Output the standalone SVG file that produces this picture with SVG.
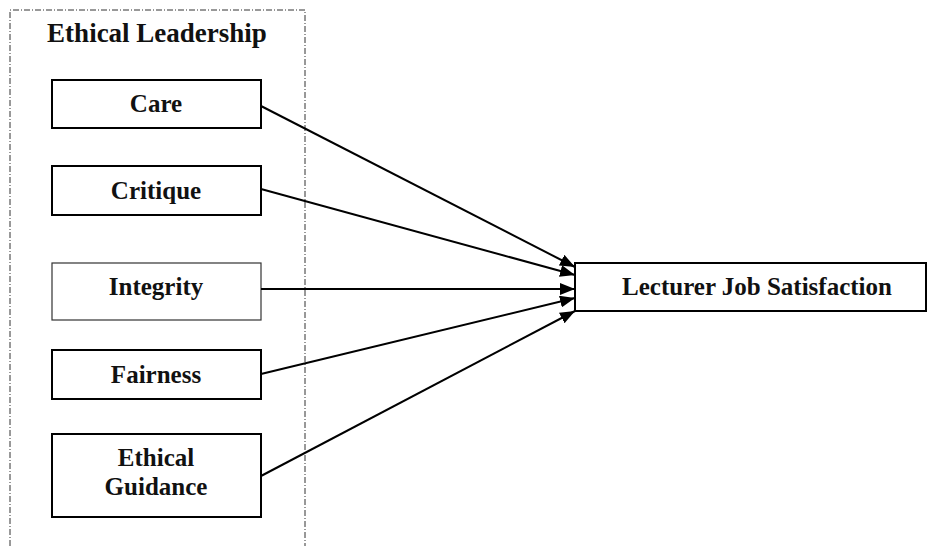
<svg xmlns="http://www.w3.org/2000/svg" width="928" height="546" viewBox="0 0 928 546">
<style>
.box{fill:#fff;stroke:#000;stroke-width:2}
.thin{fill:#fff;stroke:#333;stroke-width:1.2}
.lbl{font-family:"Liberation Serif","Times New Roman",serif;font-weight:bold;font-size:25px;fill:#111;text-anchor:middle}
.ttl{font-family:"Liberation Serif","Times New Roman",serif;font-weight:bold;font-size:27px;fill:#111;text-anchor:middle}
.conn{stroke:#000;stroke-width:2;fill:none;marker-end:url(#ah)}
</style>
<defs>
<marker id="ah" markerUnits="userSpaceOnUse" markerWidth="16" markerHeight="12" refX="15" refY="6" orient="auto">
<path d="M0,0 L15,6 L0,12 z" fill="#000"/>
</marker>
</defs>
<rect width="928" height="546" fill="#fff"/>
<g id="group-ethical-leadership">
<path d="M10,546 V10 H305 V546" fill="none" stroke="#333" stroke-width="1" stroke-dasharray="6,2,1,2"/>
<text class="ttl" x="157" y="42">Ethical Leadership</text>
</g>
<g id="node-care">
<rect class="box" x="52" y="80" width="209" height="48"/>
<text class="lbl" x="156" y="112">Care</text>
</g>
<g id="node-critique">
<rect class="box" x="52" y="166" width="209" height="49"/>
<text class="lbl" x="156" y="199">Critique</text>
</g>
<g id="node-integrity">
<rect class="thin" x="52" y="263" width="209" height="57"/>
<text class="lbl" x="156" y="295">Integrity</text>
</g>
<g id="node-fairness">
<rect class="box" x="52" y="350" width="209" height="49"/>
<text class="lbl" x="156" y="383">Fairness</text>
</g>
<g id="node-ethical-guidance">
<rect class="box" x="52" y="434" width="209" height="83"/>
<text class="lbl" x="156" y="466">Ethical</text>
<text class="lbl" x="156" y="495">Guidance</text>
</g>
<g id="node-lecturer-job-satisfaction">
<rect class="box" x="575" y="263" width="351" height="48"/>
<text class="lbl" x="757" y="295">Lecturer Job Satisfaction</text>
</g>
<g id="connectors">
<line class="conn" x1="261" y1="106" x2="575" y2="267"/>
<line class="conn" x1="261" y1="189" x2="575" y2="275"/>
<line class="conn" x1="261" y1="289" x2="575" y2="289"/>
<line class="conn" x1="261" y1="374" x2="575" y2="298"/>
<line class="conn" x1="261" y1="476" x2="575" y2="311"/>
</g>
</svg>
